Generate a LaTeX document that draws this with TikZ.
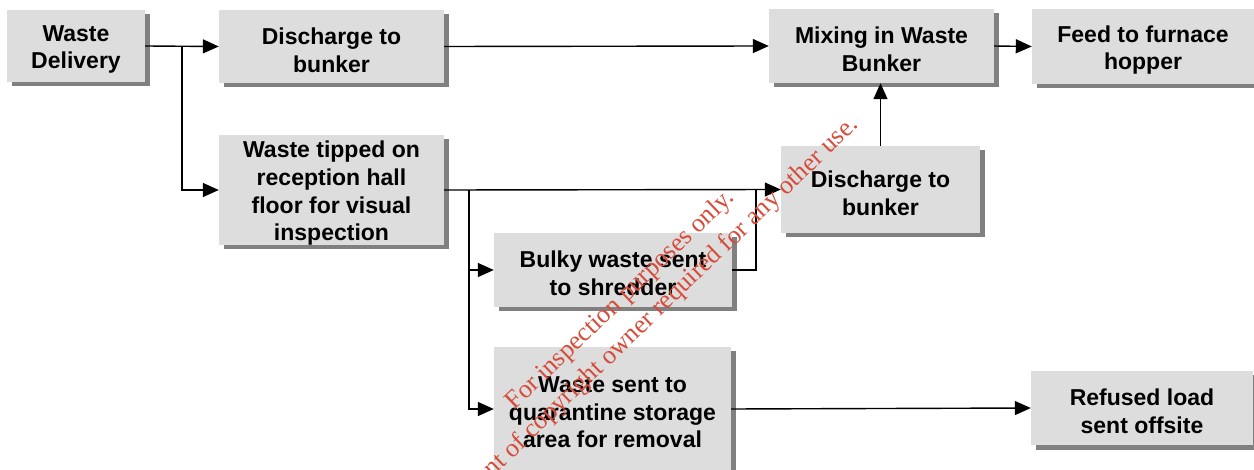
\documentclass[tikz,border=0pt]{standalone}
\usepackage{fontspec}
\setmainfont{Liberation Sans}
\newfontfamily\markfont{Liberation Serif}
\usetikzlibrary{arrows.meta,shadows}
\definecolor{boxfill}{RGB}{221,221,221}
\definecolor{boxshade}{RGB}{128,128,128}
\definecolor{markred}{RGB}{214,76,58}
\begin{document}
\begin{tikzpicture}[x=1pt,y=-1pt,
  stepbox/.style={rectangle, fill=boxfill, inner sep=0pt,
    drop shadow={shadow xshift=4.5pt, shadow yshift=-4.5pt, fill=boxshade, opacity=1}},
  boxtext/.style={align=center, inner sep=0pt, yshift=-3.5pt,
    font=\fontsize{23}{27.7}\selectfont\bfseries},
  txt/.style={label={[boxtext]center:{#1}}},
  arr/.style={line width=1.4pt, -{Triangle[length=16pt,width=14pt]}},
  link/.style={line width=1.4pt},
  stamptext/.style={text=markred, font=\markfont\fontsize{26}{31}\selectfont, rotate=43.8, anchor=base, inner sep=0pt}]
\useasboundingbox (0,0) rectangle (1254,470);
\clip (0,0) rectangle (1254,470);

% process boxes
\node[stepbox, minimum width=138pt, minimum height=72pt, txt={Waste\\Delivery}] (wd) at (76,46) {};
\node[stepbox, minimum width=225pt, minimum height=73pt, txt={Discharge to\\bunker}] (dtop) at (331.5,46.5) {};
\node[stepbox, minimum width=225pt, minimum height=74pt, txt={Mixing in Waste\\Bunker}] (mix) at (881.5,46) {};
\node[stepbox, minimum width=222pt, minimum height=75pt, txt={Feed to furnace\\hopper}] (feed) at (1143,46.5) {};
\node[stepbox, minimum width=225pt, minimum height=110pt, txt={Waste tipped on\\reception hall\\floor for visual\\inspection}] (tip) at (331.5,190) {};
\node[stepbox, minimum width=199pt, minimum height=87pt, txt={Discharge to\\bunker}] (dr) at (880.5,189.5) {};
\node[stepbox, minimum width=238pt, minimum height=74pt, txt={Bulky waste sent\\to shredder}] (bulky) at (613,270) {};
\node[stepbox, minimum width=237pt, minimum height=124pt, txt={Waste sent to\\quarantine storage\\area for removal}] (quar) at (612.5,409) {};
\node[stepbox, minimum width=222pt, minimum height=74pt, txt={Refused load\\sent offsite}] (ref) at (1142,408) {};

% junction points
\coordinate (j1) at (182,46);
\coordinate (j2) at (469,190);
\coordinate (j3) at (756,190);

% connectors
\draw[arr] (wd.east) -- (dtop.west);
\draw[arr] (j1) |- (tip.west);
\draw[arr] (dtop.east) -- (mix.west);
\draw[arr] (mix.east) -- (feed.west);
\draw[arr] (dr.north) -- (dr.north |- mix.south);
\draw[arr] (tip.east) -- (dr.west);
\draw[arr] (j2) |- (bulky.west);
\draw[arr] (j2) |- (quar.west);
\draw[link] (bulky.east) -| (j3);
\draw[arr] (quar.east) -- (ref.west);

% stamp
\node[stamptext] (m1) at (625,305) {For inspection purposes only.};
\node[stamptext] (m2) at (652.5,324.5) {Consent of copyright owner required for any other use.};
\end{tikzpicture}
\end{document}
